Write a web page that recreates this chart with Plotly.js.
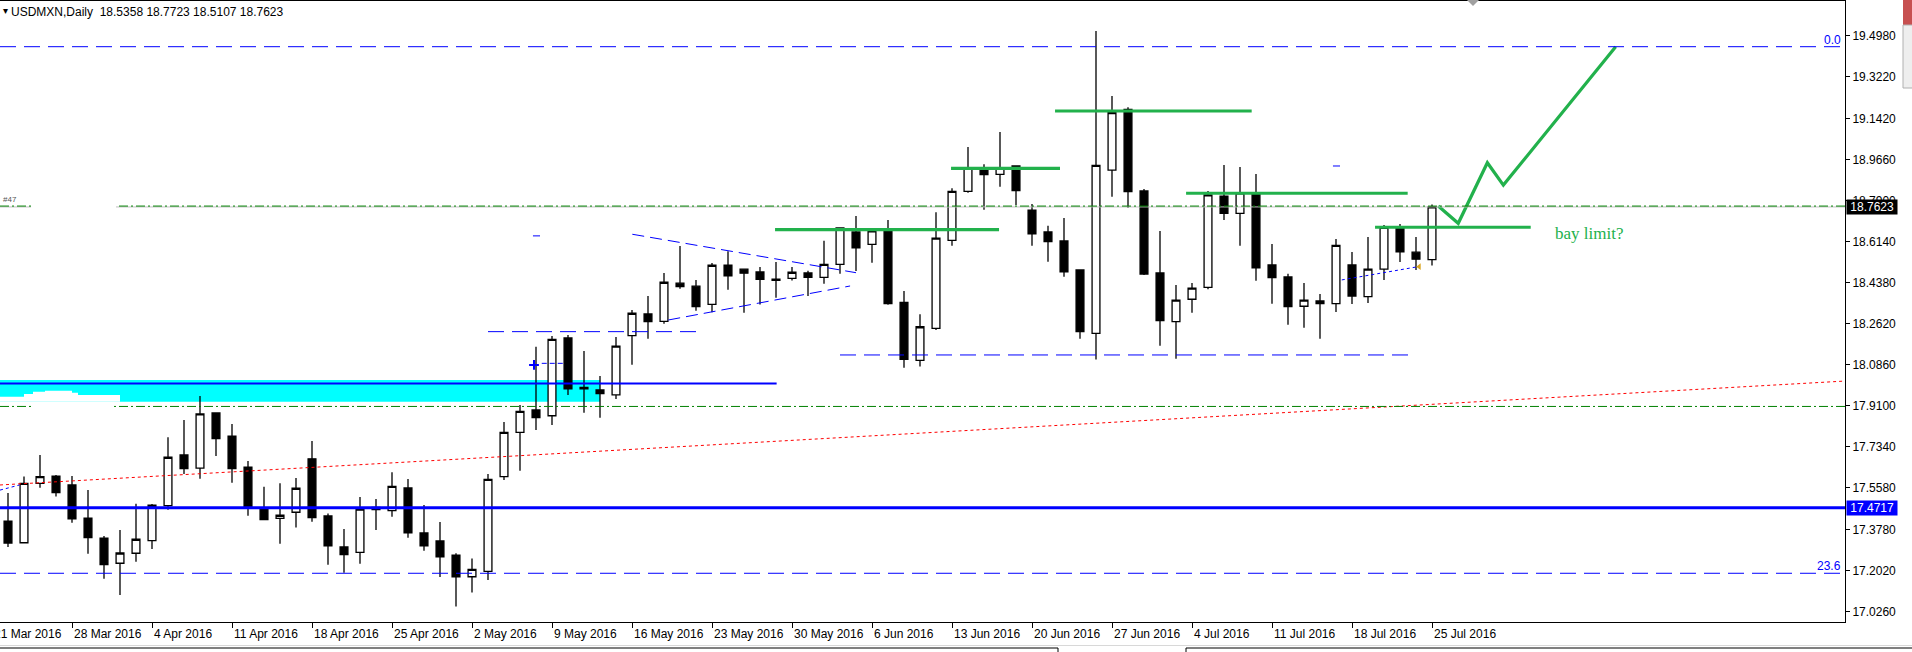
<!DOCTYPE html>
<html><head><meta charset="utf-8">
<script src="https://cdn.plot.ly/plotly-3.0.1.min.js"></script>
<style>html,body{margin:0;padding:0;background:#fff;overflow:hidden}#chart{width:1912px;height:652px}</style>
</head><body><div id="chart"></div>
<script>
// ---- candle data (USDMXN daily, 22 Mar 2016 .. 25 Jul 2016) ----
const open = [17.414,17.321,17.576,17.607,17.569,17.427,17.341,17.233,17.276,17.330,
17.480,17.698,17.641,17.878,17.779,17.646,17.470,17.426,17.452,17.681,
17.436,17.303,17.280,17.463,17.459,17.556,17.363,17.329,17.268,17.175,
17.198,17.605,17.795,17.891,17.866,18.200,17.988,17.977,17.956,18.210,
18.303,18.271,18.435,18.422,18.344,18.512,18.495,18.483,18.452,18.456,
18.479,18.460,18.516,18.655,18.602,18.660,18.353,18.104,18.241,18.619,
18.829,18.928,18.902,18.938,18.749,18.655,18.616,18.492,18.220,18.920,
19.181,18.831,18.479,18.270,18.366,18.417,18.809,18.735,18.821,18.513,
18.462,18.336,18.359,18.347,18.513,18.377,18.495,18.675,18.568,18.5358];
const high = [17.535,17.605,17.698,17.612,17.608,17.547,17.350,17.376,17.488,17.487,
17.774,17.848,17.951,17.878,17.831,17.672,17.561,17.576,17.599,17.758,
17.447,17.380,17.517,17.509,17.624,17.595,17.483,17.410,17.276,17.253,
17.616,17.839,17.912,18.162,18.208,18.213,18.144,18.037,18.204,18.320,
18.380,18.479,18.595,18.449,18.522,18.572,18.495,18.505,18.526,18.505,
18.488,18.617,18.675,18.723,18.660,18.706,18.401,18.302,18.739,18.842,
19.019,18.945,19.084,18.941,18.775,18.681,18.715,18.492,19.517,19.238,
19.190,18.839,18.659,18.427,18.436,18.831,18.942,18.934,18.904,18.603,
18.475,18.436,18.389,18.625,18.569,18.633,18.685,18.689,18.633,18.7723];
const low = [17.303,17.320,17.557,17.519,17.407,17.274,17.167,17.097,17.239,17.294,
17.463,17.616,17.596,17.693,17.579,17.437,17.418,17.317,17.386,17.411,
17.227,17.192,17.231,17.376,17.433,17.343,17.287,17.174,17.047,17.107,
17.161,17.590,17.630,17.805,17.826,17.955,17.879,17.858,17.938,18.085,
18.197,18.261,18.411,18.317,18.310,18.407,18.308,18.344,18.373,18.447,
18.380,18.433,18.476,18.487,18.523,18.342,18.072,18.077,18.234,18.596,
18.823,18.750,18.849,18.771,18.596,18.527,18.463,18.197,18.107,18.806,
18.759,18.470,18.167,18.111,18.308,18.409,18.706,18.596,18.446,18.347,
18.257,18.244,18.197,18.311,18.346,18.350,18.449,18.526,18.492,18.5107];
const close = [17.320,17.576,17.605,17.536,17.424,17.343,17.227,17.277,17.336,17.482,
17.688,17.639,17.874,17.768,17.639,17.476,17.420,17.439,17.555,17.429,
17.308,17.270,17.465,17.473,17.563,17.364,17.308,17.261,17.175,17.207,
17.593,17.795,17.885,17.858,18.194,17.982,17.982,17.961,18.165,18.306,
18.270,18.439,18.420,18.334,18.512,18.467,18.478,18.452,18.447,18.482,
18.460,18.516,18.672,18.587,18.660,18.347,18.108,18.248,18.628,18.829,
18.928,18.901,18.928,18.832,18.647,18.613,18.484,18.227,18.941,19.167,
18.828,18.474,18.274,18.362,18.414,18.814,18.735,18.823,18.501,18.459,
18.334,18.362,18.347,18.597,18.380,18.495,18.675,18.570,18.538,18.7623];

// ---- axis ticks ----
const tickBars  = [-1,4,9,14,19,24,29,34,39,44,49,54,59,64,69,74,79,84,89];
const tickDates = ['21 Mar 2016','28 Mar 2016','4 Apr 2016','11 Apr 2016','18 Apr 2016','25 Apr 2016',
 '2 May 2016','9 May 2016','16 May 2016','23 May 2016','30 May 2016','6 Jun 2016','13 Jun 2016',
 '20 Jun 2016','27 Jun 2016','4 Jul 2016','11 Jul 2016','18 Jul 2016','25 Jul 2016'];
const priceTicks = [19.498,19.322,19.142,18.966,18.790,18.614,18.438,18.262,18.086,17.910,17.734,17.558,17.378,17.202,17.026];

// ---- chart objects (bar index, price) ----
const fibLevels = [19.450, 17.190];
const fibLabels = ['0.0', '23.6'];
const bidPrice = 18.7623;
const dashDotLevels = [18.766, 17.906];
const supportLevel = 17.4717;
const zoneLine = {x: [-0.5, 48.04], y: 18.0045};
const zoneBandX = [-0.5, 37.0];
const zoneBandY = [17.9264, 18.0195];
const blobX = [-0.5,-0.5,1,1,1.5625,1.5625,2.3125,2.3125,4,4,4.375,4.375,7,7];
const blobY = [17.9264,17.9478,17.9478,17.9594,17.9594,17.9693,17.9693,17.9736,17.9736,17.965,17.965,17.9551,17.9551,17.9264];
const trendRedX = [-0.5, 114.81];
const trendRedY = [17.569, 18.015];
const dashSegX0 = [30.0, 52.0];
const dashSegX1 = [43.06, 87.63];
const dashSegY  = [18.227, 18.127];
const triUpperX = [39.02, 53.0], triUpperY = [18.645, 18.480];
const triLowerX = [41.27, 52.63], triLowerY = [18.277, 18.423];
const greenX0 = [47.94, 58.94, 65.44, 73.63, 85.44];
const greenX1 = [61.94, 65.75, 77.73, 87.48, 95.17];
const greenY  = [18.665, 18.928, 19.174, 18.821, 18.675];
const pathX = [89.39, 90.64, 92.46, 93.46, 100.48];
const pathY = [18.766, 18.692, 18.952, 18.856, 19.450];
const dotLineX = [83.36, 88.14], dotLineY = [18.449, 18.506];
const dotLeftX = [-0.5, 0.725], dotLeftY = [17.547, 17.569];
const tinyDashX0 = [32.81, 82.81, 33.36];
const tinyDashX1 = [33.25, 83.25, 34.71];
const tinyDashY  = [18.638, 18.938, 18.091];
const tradeMark = {x: 32.875, y: 18.084};
const maskX0 = [1.44, 1.5], maskX1 = [6.75, 6.5];
const maskY0 = [18.751, 17.886], maskY1 = [18.778, 17.913];
const noteText = 'bay limit?', noteX = 96.56, noteY = 18.650;

// ---- geometry ----
const xr = [-0.5, 114.8125];
const yr = [16.9809, 19.6461];
const PW = 1845, PT = 1, PB = 622;
const pxX = X => X / PW;
const pxY = Y => (PB - Y) / (PB - PT);
const barToPaper = j => (j - xr[0]) / (xr[1] - xr[0]);

const FONT = 'Liberation Sans, Arial, sans-serif';
const BLUE = '#0000ff', GREEN = '#22b14c';
const xs = open.map((_, k) => k);

const traces = [{
  type: 'candlestick', x: xs, open: open, high: high, low: low, close: close,
  increasing: {line: {color: '#000', width: 1.3}, fillcolor: '#ffffff'},
  decreasing: {line: {color: '#000', width: 1.3}, fillcolor: '#000000'},
  whiskerwidth: 0, hoverinfo: 'skip', showlegend: false
}, {
  type: 'scatter', mode: 'lines', x: pathX, y: pathY,
  line: {color: GREEN, width: 3.2}, hoverinfo: 'skip', showlegend: false
}, {
  type: 'scatter', mode: 'markers', x: [tradeMark.x], y: [tradeMark.y],
  marker: {symbol: 'cross-thin-open', size: 7, color: BLUE, line: {color: BLUE, width: 2}},
  hoverinfo: 'skip', showlegend: false
}, {
  type: 'scatter', mode: 'markers', x: [dotLineX[1] + 0.06], y: [dotLineY[1]],
  marker: {symbol: 'triangle-left', size: 6, color: '#daa520'},
  hoverinfo: 'skip', showlegend: false
}];

const shapes = [];
shapes.push({type: 'rect', xref: 'x', yref: 'y', x0: zoneBandX[0] - 1, x1: zoneBandX[1], y0: zoneBandY[0], y1: zoneBandY[1],
  fillcolor: '#00ffff', line: {width: 0}, layer: 'below'});
let blobPath = 'M' + blobX.map((v, k) => (v === -0.5 ? v - 1 : v) + ',' + blobY[k]).join(' L') + ' Z';
shapes.push({type: 'path', xref: 'x', yref: 'y', path: blobPath, fillcolor: '#ffffff', line: {width: 0}, layer: 'below'});
shapes.push({type: 'line', xref: 'x', yref: 'y', x0: trendRedX[0], x1: trendRedX[1], y0: trendRedY[0], y1: trendRedY[1],
  line: {color: '#ff0000', width: 1, dash: '3px,3px'}});
shapes.push({type: 'line', xref: 'x', yref: 'y', x0: dotLeftX[0], x1: dotLeftX[1], y0: dotLeftY[0], y1: dotLeftY[1],
  line: {color: BLUE, width: 1, dash: '3px,3px'}});
shapes.push({type: 'line', xref: 'x', yref: 'y', x0: dotLineX[0], x1: dotLineX[1], y0: dotLineY[0], y1: dotLineY[1],
  line: {color: BLUE, width: 1, dash: '3px,3px'}});
fibLevels.forEach(v => shapes.push({type: 'line', xref: 'paper', yref: 'y', x0: 0, x1: 1, y0: v, y1: v,
  line: {color: BLUE, width: 1, dash: '16px,8px'}}));
shapes.push({type: 'line', xref: 'paper', yref: 'y', x0: 0, x1: 1, y0: bidPrice, y1: bidPrice, line: {color: '#c0c0c0', width: 1}});
dashDotLevels.forEach(v => shapes.push({type: 'line', xref: 'paper', yref: 'y', x0: 0, x1: 1, y0: v, y1: v,
  line: {color: '#008000', width: 1, dash: '9px,3px,2px,3px'}}));
shapes.push({type: 'line', xref: 'paper', yref: 'y', x0: 0, x1: 1, y0: supportLevel, y1: supportLevel, line: {color: BLUE, width: 3}});
shapes.push({type: 'line', xref: 'x', yref: 'y', x0: zoneLine.x[0] - 1, x1: zoneLine.x[1], y0: zoneLine.y, y1: zoneLine.y, line: {color: BLUE, width: 2}});
dashSegY.forEach((v, k) => shapes.push({type: 'line', xref: 'x', yref: 'y', x0: dashSegX0[k], x1: dashSegX1[k], y0: v, y1: v,
  line: {color: BLUE, width: 1, dash: '16px,8px'}}));
shapes.push({type: 'line', xref: 'x', yref: 'y', x0: triUpperX[0], x1: triUpperX[1], y0: triUpperY[0], y1: triUpperY[1],
  line: {color: BLUE, width: 1, dash: '12px,6px'}});
shapes.push({type: 'line', xref: 'x', yref: 'y', x0: triLowerX[0], x1: triLowerX[1], y0: triLowerY[0], y1: triLowerY[1],
  line: {color: BLUE, width: 1, dash: '12px,6px'}});
tinyDashY.forEach((v, k) => shapes.push({type: 'line', xref: 'x', yref: 'y', x0: tinyDashX0[k], x1: tinyDashX1[k], y0: v, y1: v,
  line: {color: BLUE, width: 1, dash: k === 2 ? '5px,3px' : 'solid'}}));
greenY.forEach((v, k) => shapes.push({type: 'line', xref: 'x', yref: 'y', x0: greenX0[k], x1: greenX1[k], y0: v, y1: v,
  line: {color: GREEN, width: 3.2}}));
maskY0.forEach((v, k) => shapes.push({type: 'rect', xref: 'x', yref: 'y', x0: maskX0[k], x1: maskX1[k], y0: v, y1: maskY1[k],
  fillcolor: '#ffffff', line: {width: 0}}));
// window chrome
shapes.push({type: 'path', xref: 'paper', yref: 'paper',
  path: `M${pxX(1467)},${pxY(0)} L${pxX(1479)},${pxY(0)} L${pxX(1473)},${pxY(6)} Z`, fillcolor: '#a0a0a0', line: {width: 0}});
shapes.push({type: 'rect', xref: 'paper', yref: 'paper', x0: pxX(1903), x1: pxX(1913), y0: pxY(25), y1: pxY(-1), fillcolor: '#c75050', line: {width: 0}});
shapes.push({type: 'rect', xref: 'paper', yref: 'paper', x0: pxX(1903), x1: pxX(1913), y0: pxY(88), y1: pxY(25), fillcolor: '#eeeeee', line: {color: '#b0b0b0', width: 1}});
shapes.push({type: 'line', xref: 'paper', yref: 'paper', x0: 0, x1: pxX(1912), y0: pxY(645.5), y1: pxY(645.5), line: {color: '#d8d8d8', width: 1}});
shapes.push({type: 'line', xref: 'paper', yref: 'paper', x0: 0, x1: pxX(1058), y0: pxY(648), y1: pxY(648), line: {color: '#000', width: 1}});
shapes.push({type: 'line', xref: 'paper', yref: 'paper', x0: pxX(1186), x1: pxX(1912), y0: pxY(648), y1: pxY(648), line: {color: '#000', width: 1}});
shapes.push({type: 'line', xref: 'paper', yref: 'paper', x0: pxX(1058), x1: pxX(1058), y0: pxY(648), y1: pxY(653), line: {color: '#000', width: 1}});
shapes.push({type: 'line', xref: 'paper', yref: 'paper', x0: pxX(1186), x1: pxX(1186), y0: pxY(648), y1: pxY(653), line: {color: '#000', width: 1}});

const last = open.length - 1;
const annotations = [];
annotations.push({xref: 'paper', yref: 'paper', x: pxX(1), y: 1, xanchor: 'left', yanchor: 'top', yshift: -2, showarrow: false,
  text: '\u25BE', font: {family: 'DejaVu Sans', size: 10, color: '#000'}});
annotations.push({xref: 'paper', yref: 'paper', x: pxX(9), y: 1, xanchor: 'left', yanchor: 'top', yshift: -2, showarrow: false,
  text: 'USDMXN,Daily\u00a0\u00a0' + [open[last], high[last], low[last], close[last]].map(v => v.toFixed(4)).join(' '),
  font: {family: FONT, size: 12, color: '#000'}});
tickBars.forEach((j, k) => annotations.push({xref: 'paper', yref: 'paper', x: barToPaper(j), y: 0, xanchor: 'left', yanchor: 'top',
  xshift: 0, yshift: -3, showarrow: false, text: tickDates[k], font: {family: FONT, size: 12, color: '#000'}}));
fibLevels.forEach((v, k) => annotations.push({xref: 'paper', yref: 'y', x: 1, y: v, xanchor: 'right', yanchor: 'bottom',
  xshift: -2, yshift: -2, showarrow: false, text: fibLabels[k], font: {family: FONT, size: 12, color: BLUE}}));
annotations.push({xref: 'paper', yref: 'y', x: 1, y: bidPrice, xanchor: 'left', yanchor: 'middle', xshift: 1, showarrow: false,
  text: '\u00a0' + bidPrice.toFixed(4) + '\u00a0', bgcolor: '#000', borderpad: 0, font: {family: FONT, size: 12, color: '#fff'}});
annotations.push({xref: 'paper', yref: 'y', x: 1, y: supportLevel, xanchor: 'left', yanchor: 'middle', xshift: 1, showarrow: false,
  text: '\u00a0' + supportLevel.toFixed(4) + '\u00a0', bgcolor: BLUE, borderpad: 0, font: {family: FONT, size: 12, color: '#fff'}});
annotations.push({xref: 'x', yref: 'y', x: noteX, y: noteY, xanchor: 'left', yanchor: 'middle', showarrow: false,
  text: noteText, font: {family: 'Liberation Serif, Times New Roman, serif', size: 17, color: GREEN}});
annotations.push({xref: 'x', yref: 'y', x: xr[0], y: 18.796, xanchor: 'left', yanchor: 'middle', xshift: 1, showarrow: false,
  text: '#47', font: {family: FONT, size: 8, color: '#555'}});

const layout = {
  width: 1912, height: 652,
  margin: {l: 0, r: 67, t: 1, b: 30, pad: 0},
  paper_bgcolor: '#ffffff', plot_bgcolor: '#ffffff',
  showlegend: false, hovermode: false, dragmode: false,
  xaxis: {type: 'linear', range: xr, rangeslider: {visible: false}, showgrid: false, zeroline: false,
    showline: true, mirror: true, linecolor: '#000', linewidth: 1,
    tickmode: 'array', tickvals: tickBars.filter(j => j >= xr[0]), ticks: 'outside', ticklen: 5, tickcolor: '#000', tickwidth: 1,
    showticklabels: false, automargin: false, fixedrange: true},
  yaxis: {type: 'linear', range: yr, side: 'right', showgrid: false, zeroline: false,
    showline: true, linecolor: '#000', linewidth: 1,
    tickmode: 'array', tickvals: priceTicks, ticktext: priceTicks.map(v => v.toFixed(4)),
    ticks: 'outside', ticklen: 4, tickcolor: '#000', tickwidth: 1,
    tickfont: {family: FONT, size: 12, color: '#000'}, automargin: false, fixedrange: true},
  shapes: shapes, annotations: annotations
};

Plotly.newPlot('chart', traces, layout, {staticPlot: true, displayModeBar: false});
</script>
</body></html>
